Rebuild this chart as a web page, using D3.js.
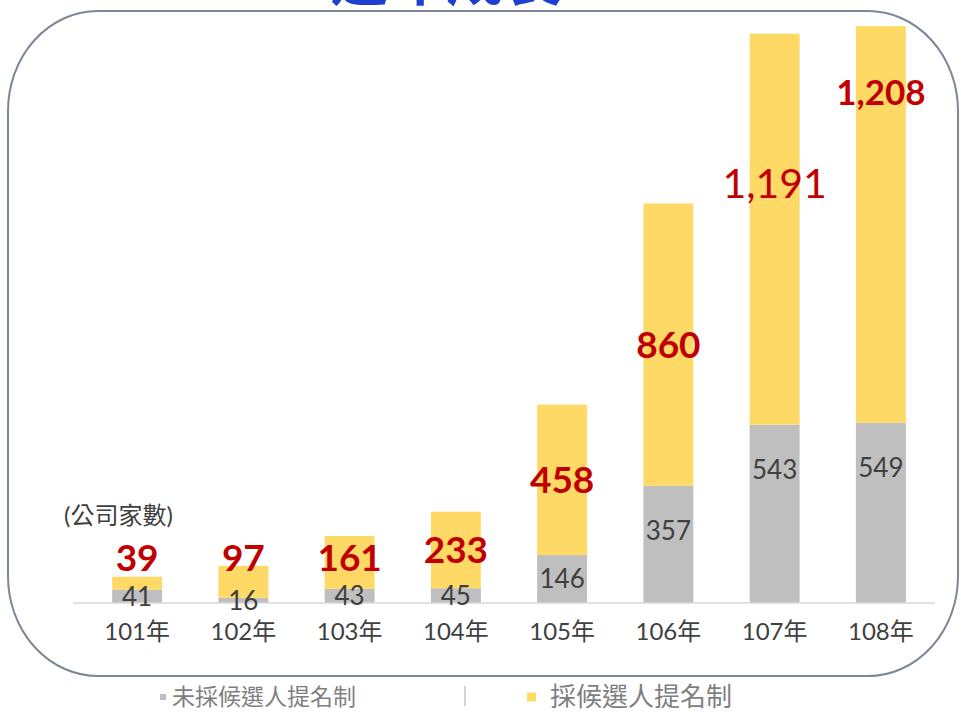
<!DOCTYPE html>
<html>
<head>
<meta charset="utf-8">
<script src="https://cdn.jsdelivr.net/npm/d3@7"></script>
<style>
  body { margin: 0; background: #fff; }
  svg { display: block; }
</style>
</head>
<body>
<div id="chart"></div>
<script>
////
// DATA
////
const years = ["101年", "102年", "103年", "104年", "105年", "106年", "107年", "108年"];
const notAdopted = [41, 16, 43, 45, 146, 357, 543, 549];      // 未採候選人提名制
const adopted = [39, 97, 161, 233, 458, 860, 1191, 1208];      // 採候選人提名制
const seriesNames = ["未採候選人提名制", "採候選人提名制"];
const seriesColors = ["#bfbfbf", "#ffd966"];

////
// CONTAINER
////
const width = 961, height = 712;
const base_y = 603;

const svg = d3.select("#chart")
    .append("svg")
    .attr("width", width)
    .attr("height", height);

// title, cut off at the top of the picture
svg.append("text")
    .attr("x", 446)
    .attr("y", 0)
    .attr("text-anchor", "middle")
    .style("font-family", "'Noto Sans CJK TC', sans-serif")
    .style("font-weight", "bold")
    .style("font-size", "58px")
    .style("fill", "#1f3fd0")
    .text("逐年成長");

// rounded frame
svg.append("rect")
    .attr("x", 8).attr("y", 11)
    .attr("width", 950).attr("height", 665)
    .attr("rx", 90).attr("ry", 100)
    .style("fill", "none")
    .style("stroke", "#7d8896")
    .style("stroke-width", 2);

// scales
const x = d3.scaleBand()
    .domain(years)
    .range([84, 934])
    .paddingInner(0.53)
    .paddingOuter(0.265);

const y = d3.scaleLinear()
    .domain([0, 1800])
    .range([base_y, 12]);

const table = years.map((yr, i) => ({ year: yr, notAdopted: notAdopted[i], adopted: adopted[i] }));
const stacked = d3.stack().keys(["notAdopted", "adopted"])(table);

// bars
svg.selectAll(".layer")
    .data(stacked)
    .enter()
    .append("g")
    .attr("class", "layer")
    .style("fill", (d, i) => seriesColors[i])
    .selectAll("rect")
    .data(d => d)
    .enter()
    .append("rect")
    .attr("x", d => x(d.data.year))
    .attr("y", d => y(d[1]))
    .attr("width", x.bandwidth())
    .attr("height", d => y(d[0]) - y(d[1]));

// baseline
svg.append("line")
    .attr("x1", 73).attr("x2", 935)
    .attr("y1", base_y).attr("y2", base_y)
    .style("stroke", "#d9d9d9")
    .style("stroke-width", 1.5);

// x axis labels
const x_axis = svg.append("g")
    .attr("transform", "translate(0," + (base_y + 20) + ")")
    .call(d3.axisBottom(x).tickSize(0).tickPadding(0));
x_axis.select(".domain").remove();
x_axis.selectAll(".tick text")
    .attr("dy", "0.71em")
    .style("font-family", "Lato, 'Noto Sans CJK TC', sans-serif")
    .style("font-size", "24px")
    .style("fill", "#404040");

const cx = d => x(d.data.year) + x.bandwidth() / 2;
const val = d => d[1] - d[0];

// gray value labels
svg.selectAll(".lbl_gray")
    .data(stacked[0])
    .enter()
    .append("text")
    .attr("class", "lbl_gray")
    .attr("x", cx)
    .attr("y", d => Math.min((y(d[0]) + y(d[1])) / 2, y(d[1]) + 45))
    .attr("dy", "0.36em")
    .attr("text-anchor", "middle")
    .style("font-family", "Lato, sans-serif")
    .style("font-size", "26px")
    .style("fill", "#404040")
    .text(d => d3.format(",")(val(d)));

// red value labels
var red_labels = svg.selectAll(".lbl_red")
    .data(stacked[1])
    .enter()
    .append("text")
    .attr("class", "lbl_red")
    .attr("x", cx)
    .attr("y", d => Math.min((y(d[0]) + y(d[1])) / 2, y(0) - 45, y(d[1]) + 150))
    .attr("dy", "0.36em")
    .attr("text-anchor", "middle")
    .style("font-family", "Lato, sans-serif")
    .style("font-weight", d => val(d) > 1200 ? "bold" : (val(d) > 1000 ? "normal" : "bold"))
    .style("font-size", d => val(d) > 1200 ? "35px" : (val(d) > 1000 ? "41px" : "37px"))
    .style("fill", "#c00000")
    .text(d => d3.format(",")(val(d)));

// push a label up to the top of its bar when it crowds its left neighbour
var prev = null;
red_labels.each(function (d) {
    const box = this.getBBox();
    if (prev && box.x < prev.x + prev.width + 25 && Math.abs(box.y - prev.y) < box.height) {
        d3.select(this).attr("y", y(d[1]) + 66);
        prev = this.getBBox();
    } else {
        prev = box;
    }
});

// unit label
svg.append("text")
    .attr("x", 64)
    .attr("y", 524)
    .style("font-family", "Lato, 'Noto Sans CJK TC', sans-serif")
    .style("font-size", "24px")
    .style("fill", "#404040")
    .text("(公司家數)");

// legend
const legend = [
    { name: seriesNames[0], color: seriesColors[0], x: 160, box: 6, gap: 6, size: 23 },
    { name: seriesNames[1], color: seriesColors[1], x: 527, box: 9, gap: 14, size: 26 }
];
const leg = svg.selectAll(".legend")
    .data(legend)
    .enter()
    .append("g")
    .attr("class", "legend")
    .attr("transform", d => `translate(${d.x}, 697)`);
leg.append("rect")
    .attr("x", 0)
    .attr("y", d => -d.box / 2)
    .attr("width", d => d.box)
    .attr("height", d => d.box)
    .style("fill", d => d.color);
leg.append("text")
    .attr("x", d => d.box + d.gap)
    .attr("dy", "0.36em")
    .style("font-family", "'Noto Sans CJK TC', sans-serif")
    .style("font-size", d => d.size + "px")
    .style("fill", "#7f7f7f")
    .text(d => d.name);

svg.append("line")
    .attr("x1", 465).attr("x2", 465)
    .attr("y1", 686).attr("y2", 706)
    .style("stroke", "#a6a6a6")
    .style("stroke-width", 1);
</script>
</body>
</html>
